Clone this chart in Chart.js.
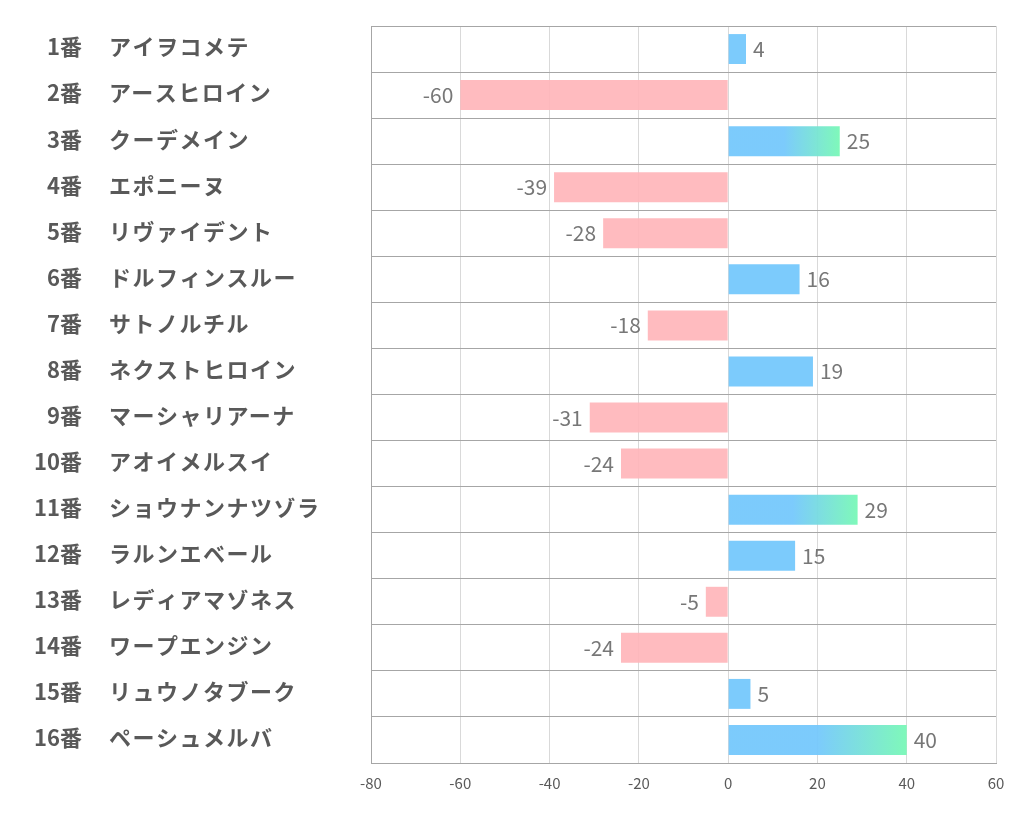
<!DOCTYPE html>
<html>
<head>
<meta charset="utf-8">
<script src="https://cdn.jsdelivr.net/npm/chart.js@4"></script>
<style>
  html, body { margin: 0; padding: 0; background: #fff; }
  #wrap { width: 1022px; height: 834px; }
</style>
</head>
<body>
<div id="wrap"><canvas id="chart" width="1022" height="834"></canvas></div>
<script>
// horse numbers and names
const numbers = ['1番', '2番', '3番', '4番', '5番', '6番', '7番', '8番',
  '9番', '10番', '11番', '12番', '13番', '14番', '15番', '16番'];
const names = ['アイヲコメテ', 'アースヒロイン', 'クーデメイン', 'エポニーヌ', 'リヴァイデント',
  'ドルフィンスルー', 'サトノルチル', 'ネクストヒロイン', 'マーシャリアーナ', 'アオイメルスイ',
  'ショウナンナツゾラ', 'ラルンエベール', 'レディアマゾネス', 'ワープエンジン', 'リュウノタブーク', 'ペーシュメルバ'];
const values = [4, -60, 25, -39, -28, 16, -18, 19, -31, -24, 29, 15, -5, -24, 5, 40];
const xTicks = [-80, -60, -40, -20, 0, 20, 40, 60];

const BLUE = 'rgba(117, 200, 252, 0.95)';
const GREEN = 'rgba(120, 248, 182, 0.95)';
const PINK = 'rgba(255, 180, 184, 0.9)';
const FONT = '"Noto Sans CJK JP", "Noto Sans", sans-serif';

function barColor(ctx) {
    const v = ctx.raw;
    if (v < 0) return PINK;
    if (v <= 20) return BLUE;
    const x = ctx.chart.scales.x;
    if (!x) return BLUE;
    // gradient over the outer half of the longer bars
    const g = ctx.chart.ctx.createLinearGradient(x.getPixelForValue(v / 2), 0, x.getPixelForValue(v), 0);
    g.addColorStop(0, BLUE);
    g.addColorStop(1, GREEN);
    return g;
}

// Row labels and value labels
const labelPlugin = {
    id: 'labels',
    afterDatasetsDraw(chart) {
        const c = chart.ctx;
        const y = chart.scales.y;
        const x = chart.scales.x;
        c.save();
        c.textBaseline = 'middle';
        c.font = 'bold 22px ' + FONT;
        c.fillStyle = '#595959';
        numbers.forEach((n, i) => {
            const py = y.getPixelForValue(i) - 2;
            c.letterSpacing = '0px';
            c.textAlign = 'right';
            c.fillText(n, 82, py);
            c.letterSpacing = '1.5px';
            c.textAlign = 'left';
            c.fillText(names[i], 109, py);
        });
        c.letterSpacing = '0px';
        c.font = '21px ' + FONT;
        c.fillStyle = '#777777';
        values.forEach((v, i) => {
            const py = y.getPixelForValue(i);
            const px = x.getPixelForValue(v);
            if (v < 0) {
                c.textAlign = 'right';
                c.fillText(String(v), px - 7, py);
            } else {
                c.textAlign = 'left';
                c.fillText(String(v), px + 7, py);
            }
        });
        c.restore();
    }
};

const ctx = document.getElementById('chart').getContext('2d');
new Chart(ctx, {
    type: 'bar',
    data: {
        labels: numbers,
        datasets: [{
            data: values,
            backgroundColor: barColor,
            borderWidth: 0,
            barPercentage: 0.65,
            categoryPercentage: 1
        }]
    },
    options: {
        indexAxis: 'y',
        responsive: false,
        animation: false,
        layout: { padding: { top: 26, right: 26, left: 0, bottom: 0 } },
        plugins: { legend: { display: false }, tooltip: { enabled: false } },
        scales: {
            x: {
                min: -80,
                max: 60,
                afterBuildTicks: s => { s.ticks = xTicks.map(v => ({ value: v })); },
                afterFit: s => { s.height = 71; },
                grid: { color: '#d9d9d9', drawTicks: false },
                border: { color: '#a6a6a6' },
                ticks: { color: '#595959', font: { family: FONT, size: 15 }, padding: 11 }
            },
            y: {
                afterFit: s => { s.width = 371; },
                grid: { color: '#a6a6a6', offset: true, drawTicks: false },
                border: { color: '#a6a6a6' },
                ticks: { display: false }
            }
        }
    },
    plugins: [labelPlugin]
});
</script>
</body>
</html>
